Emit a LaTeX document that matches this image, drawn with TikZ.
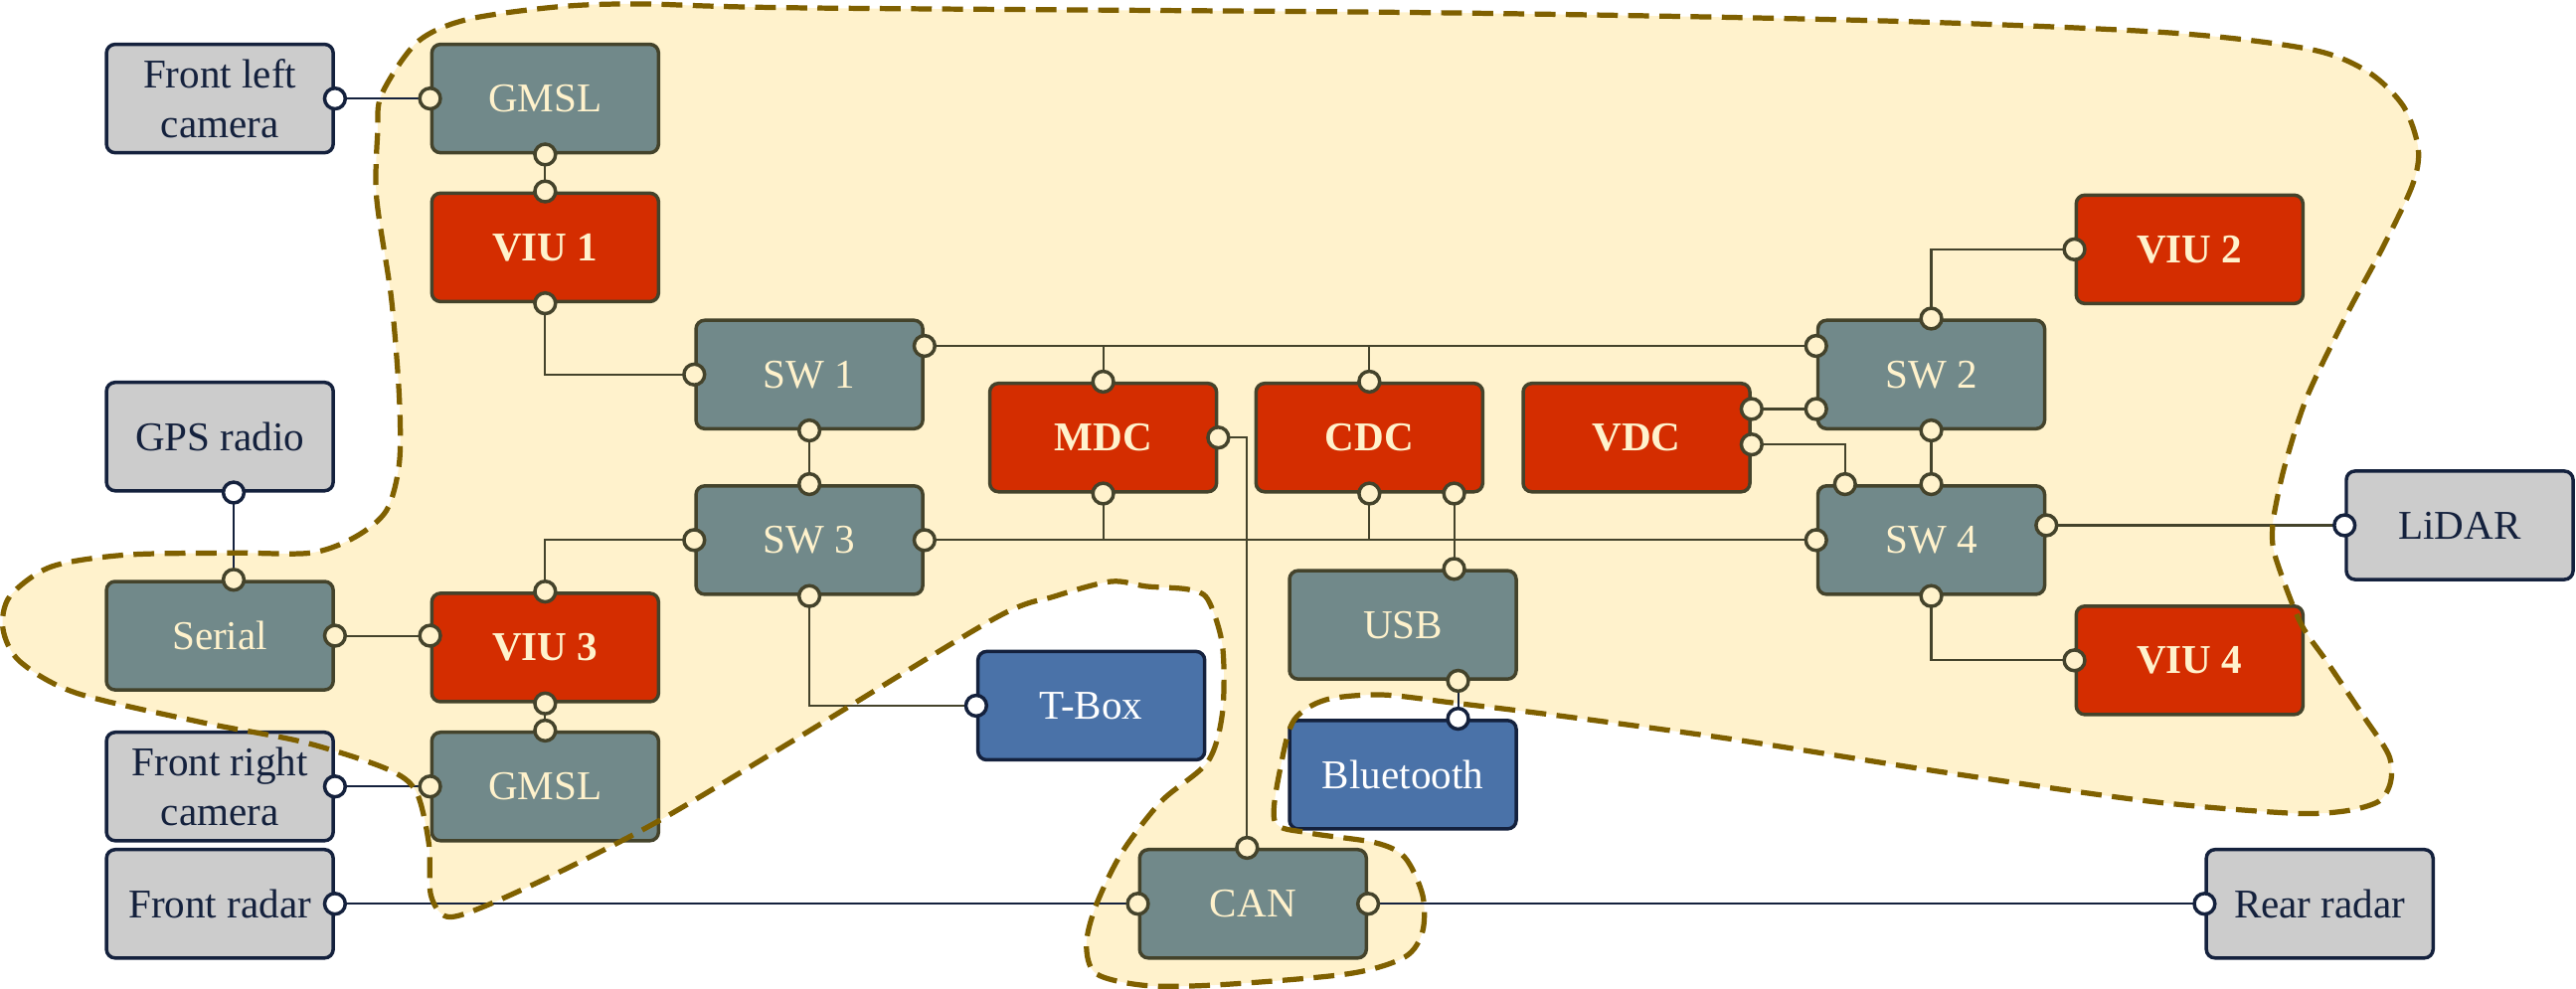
\documentclass[tikz,border=0pt]{standalone}
\usepackage{fontspec}
\setmainfont{Liberation Serif}

\definecolor{zonefill}{HTML}{FFF2CC}
\definecolor{zonedash}{HTML}{7F6000}
\definecolor{ecugray}{HTML}{71898A}
\definecolor{ecured}{HTML}{D42D00}
\definecolor{ecublue}{HTML}{4A72A8}
\definecolor{sensorgray}{HTML}{CCCCCC}
\definecolor{edgeolive}{HTML}{44432B}
\definecolor{edgenavy}{HTML}{14213D}
\definecolor{textcream}{HTML}{FFF2CC}

\newcommand{\boxfont}{\fontsize{11.8}{14.2}\selectfont}

% outline of the zone (drawn twice: fill below, dashes on top)
\newcommand{\zoneoutline}{plot[smooth cycle] coordinates {
  (3.83,8.68) (3.82,8.02) (3.97,7.00) (4.05,6.00) (4.05,5.33) (3.92,4.85)
  (3.60,4.58) (3.15,4.42) (2.37,4.42) (1.28,4.40) (0.52,4.28) (0.10,3.98)
  (0.03,3.65) (0.20,3.32) (0.77,3.00) (2.05,2.70) (3.08,2.50) (3.92,2.23)
  (4.22,2.00) (4.35,1.47) (4.37,0.95) (4.53,0.73) (4.88,0.82) (5.67,1.18)
  (6.68,1.70) (8.07,2.53) (10.08,3.75) (10.70,3.98) (11.27,4.13) (11.63,4.08)
  (12.05,4.05) (12.25,3.95) (12.40,3.48) (12.40,2.80) (12.25,2.30) (11.78,1.90)
  (11.38,1.38) (11.12,0.85) (11.02,0.45) (11.12,0.15) (11.63,0.03) (12.40,0.04)
  (13.68,0.15) (14.25,0.32) (14.43,0.58) (14.43,0.95) (14.25,1.33) (13.95,1.48)
  (13.27,1.58) (12.93,1.70) (13.00,2.30) (13.13,2.73) (13.45,2.93) (14.02,2.98)
  (14.73,2.90) (15.80,2.77) (17.57,2.53) (19.68,2.20) (21.80,1.90) (23.22,1.78)
  (23.78,1.80) (24.13,1.90) (24.25,2.10) (24.23,2.37) (23.97,2.77) (23.60,3.32)
  (23.33,3.72) (23.08,4.38) (23.05,4.65) (23.08,4.88) (23.18,5.32) (23.40,6.00)
  (23.80,6.83) (24.17,7.52) (24.47,8.15) (24.53,8.52) (24.38,8.95) (24.02,9.30)
  (23.43,9.53) (21.97,9.70) (19.03,9.82) (14.62,9.90) (8.13,9.95) (6.50,9.99)
  (5.65,9.96) (4.73,9.83) (4.23,9.60) (3.87,9.07)}}

\tikzset{
  unit/.style={rectangle, rounded corners=2.5pt, minimum width=2.3cm,
    minimum height=1.1cm, inner sep=1pt, align=center, line width=1pt,
    font=\boxfont},
  core/.style={unit, draw=edgeolive, fill=ecugray, text=textcream},
  ctrl/.style={unit, draw=edgeolive, fill=ecured, text=textcream,
    font=\boxfont\bfseries},
  wless/.style={unit, draw=edgenavy, fill=ecublue, text=white},
  sensor/.style={unit, draw=edgenavy, fill=sensorgray, text=edgenavy},
  wire/.style={draw=edgeolive, line width=0.6pt},
  extwire/.style={draw=edgenavy, line width=0.6pt},
  port/.style={draw=edgeolive, fill=textcream, line width=1pt},
  extport/.style={draw=edgenavy, fill=white, line width=1pt},
  zone/.style={draw=zonedash, line width=1.5pt, dash pattern=on 6pt off 3pt}
}

\begin{document}
\begin{tikzpicture}

\useasboundingbox (0,0) rectangle (26.13,10.03);

% Zone background
\fill[zonefill] \zoneoutline;

% Sensors outside the zone
\node[sensor] (FLcam)  at (2.23,9.03)  {Front left\\camera};
\node[sensor] (GPS)    at (2.23,5.60)  {GPS radio};
\node[sensor] (FRcam)  at (2.23,2.05)  {Front right\\camera};
\node[sensor] (FRadar) at (2.23,0.86)  {Front radar};
\node[sensor] (LiDAR)  at (24.95,4.70) {LiDAR};
\node[sensor] (RRadar) at (23.53,0.86) {Rear radar};

% Switches and interfaces
\node[core] (GMSL1)  at (5.53,9.03)  {GMSL};
\node[core] (SW1)    at (8.21,6.23)  {SW 1};
\node[core] (SW2)    at (19.59,6.23) {SW 2};
\node[core] (SW3)    at (8.21,4.55)  {SW 3};
\node[core] (SW4)    at (19.59,4.55) {SW 4};
\node[core] (Serial) at (2.23,3.58)  {Serial};
\node[core] (USB)    at (14.23,3.69) {USB};
\node[core] (GMSL2)  at (5.53,2.05)  {GMSL};
\node[core] (CAN)    at (12.71,0.86) {CAN};

% Controllers
\node[ctrl] (VIU1) at (5.53,7.52)  {VIU 1};
\node[ctrl] (VIU2) at (22.21,7.50) {VIU 2};
\node[ctrl] (VIU3) at (5.53,3.46)  {VIU 3};
\node[ctrl] (VIU4) at (22.21,3.33) {VIU 4};
\node[ctrl] (MDC)  at (11.19,5.59) {MDC};
\node[ctrl] (CDC)  at (13.89,5.59) {CDC};
\node[ctrl] (VDC)  at (16.60,5.59) {VDC};

% Wireless units
\node[wless] (TBox) at (11.07,2.87) {T-Box};
\node[wless] (BT)   at (14.23,2.17) {Bluetooth};

% Ports that are not on a plain anchor
\coordinate (SW1e)  at ([yshift=0.29cm]SW1.east);
\coordinate (SW2wa) at ([yshift=0.29cm]SW2.west);
\coordinate (VDCea) at ([yshift=0.29cm]VDC.east);
\coordinate (VDCeb) at ([yshift=-0.07cm]VDC.east);
\coordinate (SW2wb) at (SW2.west |- VDCea);
\coordinate (SW4na) at ([xshift=-0.875cm]SW4.north);
\coordinate (SW4e)  at ([yshift=0.15cm]SW4.east);
\coordinate (CDCsb) at ([xshift=0.86cm]CDC.south);
\coordinate (USBn)  at (CDCsb |- USB.north);
\coordinate (USBs)  at ([xshift=0.56cm]USB.south);
\coordinate (BTn)   at (USBs |- BT.north);
\coordinate (GPSs)  at ([xshift=0.14cm]GPS.south);
\coordinate (SERn)  at (GPSs |- Serial.north);
\coordinate (VIU3w) at (VIU3.west |- Serial.east);
\coordinate (CANn)  at ([xshift=-0.06cm]CAN.north);
\coordinate (MDCb1) at (MDC.north |- SW1e);
\coordinate (CDCb1) at (CDC.north |- SW1e);
\coordinate (MDCb3) at (MDC.south |- SW3.east);
\coordinate (CDCb3) at (CDC.south |- SW3.east);

% Backbone
\draw[wire] (SW1e) -- (SW2wa);
\draw[wire] (SW3.east) -- (SW4.west);
\draw[wire] (MDC.north) -- (MDCb1);
\draw[wire] (CDC.north) -- (CDCb1);
\draw[wire] (MDC.south) -- (MDCb3);
\draw[wire] (CDC.south) -- (CDCb3);
\draw[wire] (SW1.south) -- (SW3.north);
\draw[wire] (SW2.south) -- (SW4.north);

% Left side
\draw[extwire] (FLcam.east) -- (GMSL1.west);
\draw[wire] (GMSL1.south) -- (VIU1.north);
\draw[wire] (VIU1.south) |- (SW1.west);
\draw[wire] (VIU3.north) |- (SW3.west);
\draw[extwire] (GPSs) -- (SERn);
\draw[wire] (Serial.east) -- (VIU3w);
\draw[wire] (VIU3.south) -- (GMSL2.north);
\draw[extwire] (FRcam.east) -- (GMSL2.west);
\draw[wire] (SW3.south) |- (TBox.west);

% Middle
\draw[wire] (MDC.east) -| (CANn);
\draw[wire] (CDCsb) -- (USBn);
\draw[extwire] (USBs) -- (BTn);
\draw[extwire] (FRadar.east) -- (CAN.west);
\draw[extwire] (CAN.east) -- (RRadar.west);

% Right side
\draw[wire] (VDCea) -- (SW2wb);
\draw[wire] (VDCeb) -| (SW4na);
\draw[wire] (SW2.north) |- (VIU2.west);
\draw[wire] (SW4.south) |- (VIU4.west);
\draw[wire] (SW4e) -- (LiDAR.west);

% Ports
\foreach \p in {GMSL1.west, GMSL1.south, VIU1.north, VIU1.south, SW1.west,
    SW1e, SW1.south, MDC.north, MDC.south, MDC.east, CDC.north, CDC.south,
    CDCsb, SW3.north, SW3.west, SW3.east, SW3.south, VDCea, VDCeb, SW2wa,
    SW2wb, SW2.north, SW2.south, SW4.north, SW4na, SW4.west, SW4e, SW4.south,
    VIU2.west, VIU4.west, USBn, USBs, SERn, Serial.east, VIU3w, VIU3.north,
    VIU3.south, GMSL2.north, GMSL2.west, CANn, CAN.west, CAN.east}
  \draw[port] (\p) circle (0.105);
\foreach \p in {FLcam.east, GPSs, FRcam.east, FRadar.east, TBox.west, BTn,
    LiDAR.west, RRadar.west}
  \draw[extport] (\p) circle (0.105);

% Zone border on top
\draw[zone] \zoneoutline;

\end{tikzpicture}
\end{document}
